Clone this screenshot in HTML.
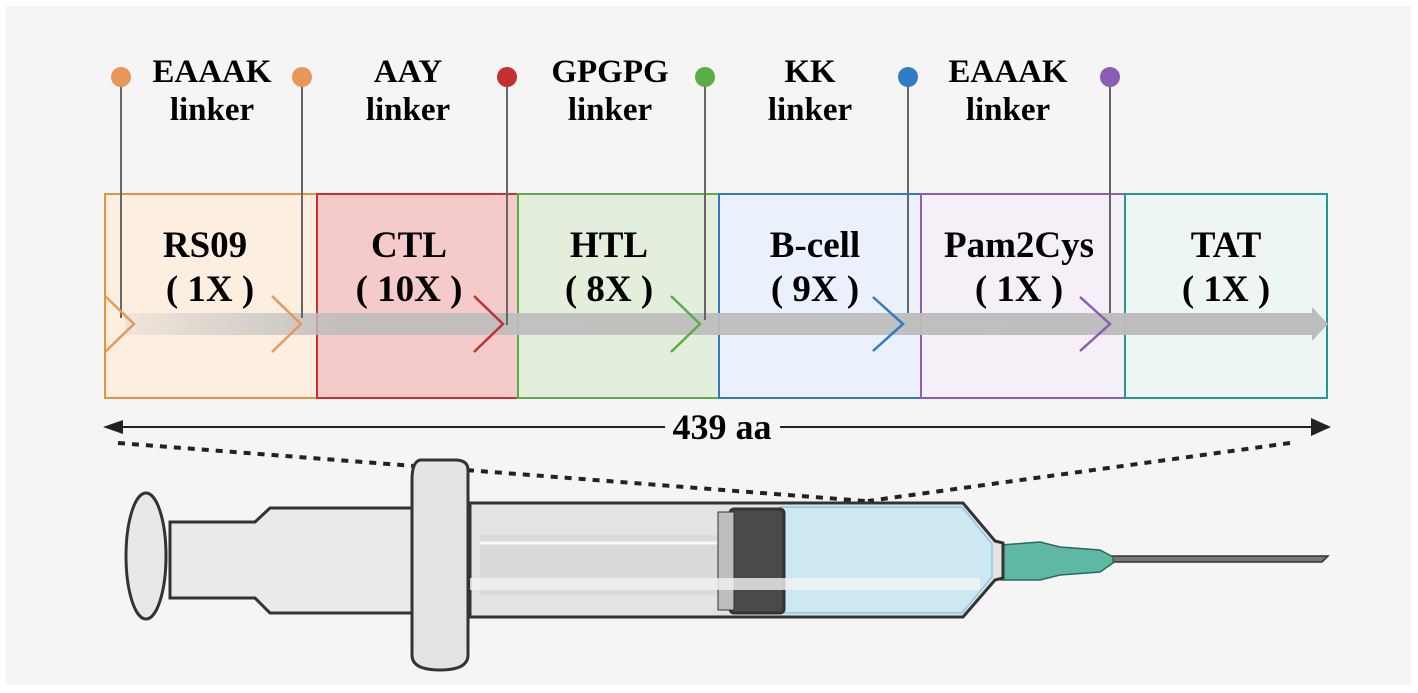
<!DOCTYPE html>
<html><head><meta charset="utf-8"><style>
html,body{margin:0;padding:0;background:#fff;}
svg{display:block;}
text{font-family:"Liberation Serif",serif;font-weight:bold;fill:#000;text-anchor:middle;}
</style></head><body>
<svg width="1418" height="693" viewBox="0 0 1418 693" xmlns="http://www.w3.org/2000/svg">
<rect x="6" y="6" width="1405" height="679" fill="#f5f5f5"/>
<rect x="105" y="194" width="212" height="204" fill="#fdefe0" stroke="#e8923f" stroke-width="2"/>
<rect x="317" y="194" width="201" height="204" fill="#f4caca" stroke="#cc3030" stroke-width="2"/>
<rect x="518" y="194" width="201" height="204" fill="#e3eedc" stroke="#5aae46" stroke-width="2"/>
<rect x="719" y="194" width="202" height="204" fill="#eaf1fb" stroke="#3579c5" stroke-width="2"/>
<rect x="921" y="194" width="204" height="204" fill="#f5eff7" stroke="#8c5db3" stroke-width="2"/>
<rect x="1125" y="194" width="202" height="204" fill="#edf6f3" stroke="#21998c" stroke-width="2"/>
<defs><linearGradient id="g" x1="0" x2="1"><stop offset="0" stop-color="#bdbdbd" stop-opacity="0.2"/><stop offset="0.18" stop-color="#bdbdbd" stop-opacity="0.9"/><stop offset="1" stop-color="#bdbdbd"/></linearGradient></defs>
<path d="M125 313 H1312 V307 L1328 324 L1312 341 V335 H125 Z" fill="url(#g)"/>
<g stroke="#666" stroke-width="2">
<line x1="121" y1="77" x2="121" y2="318"/><line x1="302" y1="77" x2="302" y2="318"/>
<line x1="507" y1="77" x2="507" y2="325"/><line x1="705" y1="77" x2="705" y2="320"/>
<line x1="908" y1="77" x2="908" y2="313"/><line x1="1110" y1="77" x2="1110" y2="313"/>
</g>
<circle cx="121" cy="77" r="10" fill="#e8975a"/><circle cx="302" cy="77" r="10" fill="#e8975a"/>
<circle cx="507" cy="77" r="10" fill="#c42f2f"/><circle cx="705" cy="77" r="10" fill="#5aae46"/>
<circle cx="908" cy="77" r="10" fill="#2f7cc4"/><circle cx="1110" cy="77" r="10" fill="#8c5db3"/>
<g fill="none" stroke-width="2.5">
<polyline points="105,296 134,324 105,352" stroke="#e8975a"/>
<polyline points="272,296 301,324 272,352" stroke="#e8975a"/>
<polyline points="474,296 503,324 474,352" stroke="#c42f2f"/>
<polyline points="671,296 700,324 671,352" stroke="#5aae46"/>
<polyline points="873,297 903,324 873,351" stroke="#2f7cc4"/>
<polyline points="1080,297 1110,324 1080,351" stroke="#8c5db3"/>
</g>
<g font-size="33">
<text x="212" y="82">EAAAK</text><text x="212" y="120">linker</text>
<text x="408" y="82">AAY</text><text x="408" y="120">linker</text>
<text x="610" y="82">GPGPG</text><text x="610" y="120">linker</text>
<text x="810" y="82">KK</text><text x="810" y="120">linker</text>
<text x="1008" y="82">EAAAK</text><text x="1008" y="120">linker</text>
</g>
<g font-size="37">
<text x="205" y="257">RS09</text><text x="210" y="301">( 1X )</text>
<text x="409" y="257">CTL</text><text x="409" y="301">( 10X )</text>
<text x="609" y="257">HTL</text><text x="609" y="301">( 8X )</text>
<text x="815" y="257">B-cell</text><text x="815" y="301">( 9X )</text>
<text x="1019" y="257">Pam2Cys</text><text x="1019" y="301">( 1X )</text>
<text x="1226" y="257">TAT</text><text x="1226" y="301">( 1X )</text>
</g>
<line x1="118" y1="427" x2="665" y2="427" stroke="#222" stroke-width="2"/>
<line x1="780" y1="427" x2="1316" y2="427" stroke="#222" stroke-width="2"/>
<polygon points="103,427 123,420 123,434" fill="#222"/>
<polygon points="1331,427 1311,418 1311,436" fill="#222"/>
<text x="722" y="439" font-size="36">439 aa</text>
<g stroke="#222" stroke-width="4" stroke-dasharray="7,7" fill="none">
<line x1="118" y1="443" x2="865" y2="501"/>
<line x1="1290" y1="443" x2="868" y2="501"/>
</g>
<g stroke="#333" stroke-width="3">
<path d="M1105 556 H1328 L1322 562 H1105 Z" fill="#777" stroke-width="1.5"/>
<path d="M1001 545 L1040 542 L1060 547 L1100 550 L1113 557 L1113 563 L1100 572 L1060 575 L1040 580 L1001 580 Z" fill="#5fb8a3" stroke="#2a6a5c" stroke-width="1.5"/>
<path d="M470 503 H963 L995 541 L1003 543 V578 L995 580 L963 617 H470 Z" fill="#e3e3e3"/>
<path d="M780 507 H962 L992 544 V577 L962 613 H780 Z" fill="#cde8f3" stroke="#8cc8e0" stroke-width="1.5"/>
<path d="M170 522 H255 L270 508 H470 V613 H270 L255 598 H170 Z" fill="#eaeaea"/>
<rect x="480" y="535" width="250" height="60" fill="#dadada" stroke="none"/>
<line x1="480" y1="543" x2="740" y2="543" stroke="#fafafa" stroke-width="3"/>
<rect x="730" y="509" width="54" height="104" fill="#4a4a4a" rx="4"/>
<rect x="718" y="512" width="16" height="98" fill="#bdbdbd" stroke-width="1"/>
<path d="M420 460 Q412 462 412 480 V655 Q412 670 440 670 Q468 670 468 655 V470 Q468 460 455 460 Z" fill="#e4e4e4"/>
<ellipse cx="146" cy="556" rx="20" ry="63" fill="#e8e8e8"/>
<rect x="470" y="578" width="510" height="12" fill="#f2f2f2" stroke="none" opacity="0.8"/>
</g>
</svg>
</body></html>
